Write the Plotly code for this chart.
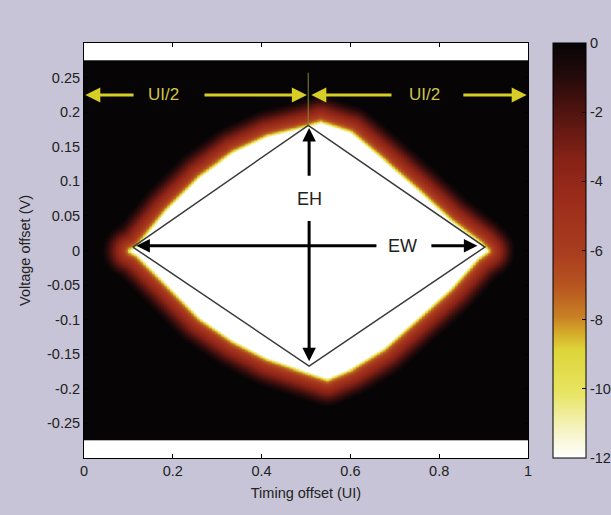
import numpy as np
import plotly.graph_objects as go

# ---- data ----
# white (BER <= 1e-12) eye opening boundary
upper_t = [0.104, 0.119, 0.186, 0.261, 0.336, 0.413, 0.502, 0.532, 0.599, 0.673, 0.750, 0.824, 0.892, 0.907]
upper_v = [0.000, 0.005, 0.058, 0.106, 0.141, 0.164, 0.178, 0.184, 0.170, 0.130, 0.087, 0.043, 0.010, 0.000]
lower_t = [0.104, 0.119, 0.186, 0.261, 0.336, 0.412, 0.486, 0.547, 0.599, 0.673, 0.750, 0.824, 0.885, 0.907]
lower_v = [0.000, -0.005, -0.048, -0.097, -0.130, -0.155, -0.171, -0.184, -0.170, -0.141, -0.097, -0.054, -0.010, 0.000]
# log10(BER) against pixel distance outside the opening
edge_dist_px = [0, 1.5, 3, 6, 10, 15, 21, 28]
edge_log_ber = [-12, -9.6, -8.0, -6.3, -4.8, -3.2, -1.6, 0.0]

# inscribed diamond
diamond_t = [0.110, 0.505, 0.903, 0.507, 0.110]
diamond_v = [0.005, 0.181, 0.005, -0.167, 0.005]

x_ticks = [0, 0.2, 0.4, 0.6, 0.8, 1]
x_ticklabels = ["0", "0.2", "0.4", "0.6", "0.8", "1"]
y_ticks = [0.25, 0.2, 0.15, 0.1, 0.05, 0, -0.05, -0.1, -0.15, -0.2, -0.25]
y_ticklabels = ["0.25", "0.2", "0.15", "0.1", "0.05", "0", "-0.05", "-0.1", "-0.15", "-0.2", "-0.25"]
cb_ticks = [0, -2, -4, -6, -8, -10, -12]
cb_ticklabels = ["0", "-2", "-4", "-6", "-8", "-10", "-12"]

V_LIM = 0.275

# ---- build the BER map ----
PX_X, PX_Y = 444.0, 690.0  # pixels per UI / per volt
nx, ny = 296, 253
xs = (np.arange(nx) + 0.5) / nx
ys = -V_LIM + (np.arange(ny) + 0.5) * (2 * V_LIM / ny)
X, Y = np.meshgrid(xs, ys)

up = np.interp(X, upper_t, upper_v)
lo = np.interp(X, lower_t, lower_v)
inside = (X >= upper_t[0]) & (X <= upper_t[-1]) & (Y < up) & (Y > lo)

poly_t = list(upper_t) + list(lower_t[::-1][1:])
poly_v = list(upper_v) + list(lower_v[::-1][1:])
P = np.column_stack([np.array(poly_t) * PX_X, np.array(poly_v) * PX_Y])
G = np.column_stack([X.ravel() * PX_X, Y.ravel() * PX_Y])
dmin = np.full(G.shape[0], np.inf)
for i in range(len(P) - 1):
    a, b = P[i], P[i + 1]
    ab = b - a
    tt = np.clip(((G - a) @ ab) / (ab @ ab), 0, 1)
    proj = a + tt[:, None] * ab
    dmin = np.minimum(dmin, np.hypot(*(G - proj).T))
dmin = dmin.reshape(X.shape)
Z = np.where(inside, -12.0, np.interp(dmin, edge_dist_px, edge_log_ber))
Z = np.round(Z, 2)

colorscale = [
    [0.00, "#ffffff"],
    [0.07, "#f5f3c0"],
    [0.16, "#e8e460"],
    [0.26, "#ddd53a"],
    [0.30, "#d5ac2a"],
    [0.34, "#c88024"],
    [0.42, "#b65220"],
    [0.50, "#a83c1e"],
    [0.62, "#9c2c1a"],
    [0.72, "#862216"],
    [0.83, "#521410"],
    [0.92, "#240a0a"],
    [1.00, "#070406"],
]

FONT = "Liberation Sans, Arial"
FS = 14.5

fig = go.Figure()
fig.add_trace(go.Heatmap(
    x=xs, y=ys, z=Z, zmin=-12, zmax=0, colorscale=colorscale, zsmooth="best",
    hoverinfo="skip",
    colorbar=dict(
        xref="container", x=553 / 611, xanchor="left", xpad=0,
        yref="paper", y=0.5, yanchor="middle", len=1, lenmode="fraction", ypad=0,
        thickness=33, thicknessmode="pixels",
        outlinecolor="black", outlinewidth=1,
        tickmode="array", tickvals=cb_ticks, ticktext=cb_ticklabels,
        ticks="inside", ticklen=4, tickcolor="black",
        tickfont=dict(size=FS, color="#222"),
    ),
))

fig.add_trace(go.Scatter(
    x=diamond_t, y=diamond_v, mode="lines",
    line=dict(color="#3a3a3a", width=1.5), hoverinfo="skip", showlegend=False,
))

# thin vertical marker at the eye centre
fig.add_shape(type="line", x0=0.505, x1=0.505, y0=0.257, y1=0.181,
              line=dict(color="#7c8a2a", width=1))

YEL = "#d6ce26"
ann = []
def arrow(tip_x, tip_y, tail_x, tail_y, color, width, size):
    ann.append(dict(x=tip_x, y=tip_y, ax=tail_x, ay=tail_y, xref="x", yref="y",
                    axref="x", ayref="y", text="", showarrow=True,
                    arrowhead=2, arrowsize=size, arrowwidth=width, arrowcolor=color))

yu = 0.225
arrow(0.003, yu, 0.115, yu, YEL, 3, 1.0)
arrow(0.502, yu, 0.268, yu, YEL, 3, 1.0)
arrow(0.512, yu, 0.696, yu, YEL, 3, 1.0)
arrow(0.997, yu, 0.851, yu, YEL, 3, 1.0)
for tx in (0.178, 0.768):
    ann.append(dict(x=tx, y=yu, xref="x", yref="y", text="UI/2", showarrow=False,
                    font=dict(size=17, color="#cdc54a", family=FONT)))

# EH / EW
arrow(0.507, 0.177, 0.507, 0.106, "black", 3, 0.9)
arrow(0.507, -0.160, 0.507, 0.045, "black", 3, 0.9)
arrow(0.118, 0.007, 0.662, 0.007, "black", 3, 0.9)
arrow(0.886, 0.007, 0.779, 0.007, "black", 3, 0.9)
ann.append(dict(x=0.507, y=0.075, xref="x", yref="y", text="EH", showarrow=False,
                font=dict(size=18, color="#222", family=FONT)))
ann.append(dict(x=0.718, y=0.007, xref="x", yref="y", text="EW", showarrow=False,
                font=dict(size=18, color="#222", family=FONT)))

fig.update_layout(
    width=611, height=515,
    margin=dict(l=84, r=83, t=43, b=57, autoexpand=False),
    paper_bgcolor="#c6c4d6", plot_bgcolor="white",
    font=dict(family=FONT, size=FS, color="#222"),
    annotations=ann, showlegend=False,
    xaxis=dict(range=[0, 1], tickmode="array", tickvals=x_ticks, ticktext=x_ticklabels,
               ticks="inside", ticklen=4, tickcolor="black", showgrid=False, zeroline=False,
               showline=True, linecolor="black", linewidth=1, mirror="allticks",
               tickfont=dict(size=FS),
               title=dict(text="Timing offset (UI)", font=dict(size=FS), standoff=9)),
    yaxis=dict(range=[-0.3, 0.3], tickmode="array", tickvals=y_ticks, ticktext=y_ticklabels,
               ticks="inside", ticklen=4, tickcolor="black", showgrid=False, zeroline=False,
               showline=True, linecolor="black", linewidth=1, mirror="allticks",
               tickfont=dict(size=FS),
               title=dict(text="Voltage offset (V)", font=dict(size=FS), standoff=12)),
)

fig.write_html("out.html")
